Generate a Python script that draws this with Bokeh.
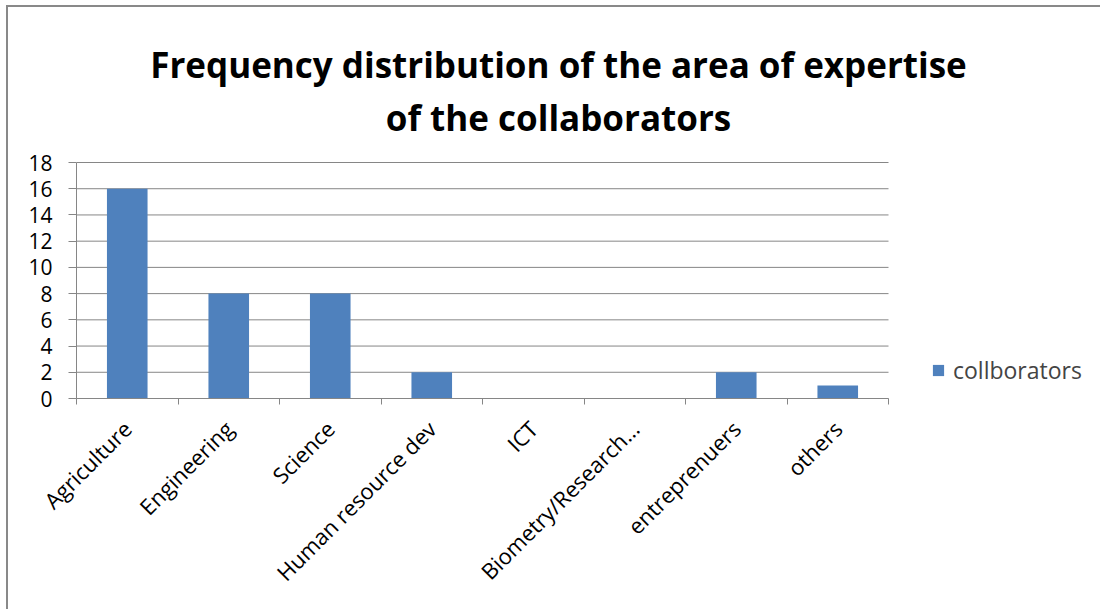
import math
from bokeh.plotting import figure
from bokeh.models import (Range1d, FixedTicker, Label, Legend, LegendItem)
from bokeh.embed import file_html
from bokeh.resources import INLINE

categories = ["Agriculture", "Engineering", "Science", "Human resource dev",
              "ICT", "Biometry/Research…", "entreprenuers", "others"]
collaborators = [16, 8, 8, 2, 0, 0, 2, 1]
y_ticks = [0, 2, 4, 6, 8, 10, 12, 14, 16, 18]
title_lines = ["Frequency distribution of the area of expertise",
               "of the collaborators"]
series_name = "collborators"

FONT = "Open Sans"
GRAY = "#868686"
BLUE = "#4F81BD"

n = len(categories)
xs = [i + 0.5 for i in range(n)]
y_max = y_ticks[-1]

# geometry (pixels): the plot area proper is 812 x 236 px; the frame is
# extended to the right and upward so the title/legend can live inside it.
W, H = 1094, 604
ML, MR, MT, MB = 68, 4, 4, 213
frame_w = W - ML - MR
frame_h = H - MT - MB
px_per_x = 812 / n
px_per_y = 236 / y_max
x_end = frame_w / px_per_x
y_end = frame_h / px_per_y

p = figure(width=W, height=H, output_backend="svg", toolbar_location=None,
           x_range=Range1d(0, x_end), y_range=Range1d(0, y_end),
           min_border_left=ML, min_border_right=MR, min_border_top=MT,
           min_border_bottom=MB)
p.styles = {"border-left": "2px solid #898989",
            "border-top": "2px solid #898989",
            "margin-left": "6px", "margin-top": "5px"}
p.outline_line_color = None
p.background_fill_color = "white"
p.border_fill_color = "white"
p.xgrid.visible = False
p.ygrid.visible = False

# horizontal gridlines across the plot area
p.segment(x0=0, x1=n, y0=y_ticks, y1=y_ticks, line_color=GRAY, line_width=1)

bars = p.vbar(x=xs, top=collaborators, width=0.4, fill_color=BLUE,
              line_color=None)

# x axis
xa = p.xaxis[0]
xa.bounds = (0, n)
xa.ticker = FixedTicker(ticks=xs, minor_ticks=list(range(n + 1)))
xa.major_label_overrides = {x: c for x, c in zip(xs, categories)}
xa.major_tick_in = 0
xa.major_tick_out = 0
xa.minor_tick_in = 0
xa.minor_tick_out = 6
xa.minor_tick_line_color = GRAY
xa.axis_line_color = GRAY
xa.major_label_orientation = math.pi / 4
xa.major_label_text_font = FONT
xa.major_label_text_font_size = "22px"
xa.major_label_text_color = "black"
xa.major_label_standoff = 20

# y axis
ya = p.yaxis[0]
ya.bounds = (0, y_max)
ya.ticker = FixedTicker(ticks=y_ticks)
ya.major_tick_in = 0
ya.major_tick_out = 8
ya.minor_tick_line_color = None
ya.major_tick_line_color = GRAY
ya.axis_line_color = GRAY
ya.major_label_text_font = FONT
ya.major_label_text_font_size = "21px"
ya.major_label_text_color = "black"
ya.major_label_standoff = 16

# title (positions expressed in pixels above the plot area)
title_center_x = (558 - 76) / px_per_x
for text, base_px in zip(title_lines, [398 - 64, 398 - 117]):
    p.add_layout(Label(x=title_center_x, y=base_px / px_per_y, text=text,
                       text_align="center", text_baseline="alphabetic",
                       text_font=FONT, text_font_style="bold",
                       text_font_size="35px", text_color="black"))

legend = Legend(items=[LegendItem(label=series_name, renderers=[bars])],
                location=(855, 12), padding=0, margin=0, spacing=0,
                glyph_width=14, glyph_height=14, label_standoff=8,
                label_text_font=FONT, label_text_font_size="23px",
                border_line_alpha=0, background_fill_alpha=0)
p.add_layout(legend, "center")

open("out.html", "w").write(file_html(p, INLINE))
